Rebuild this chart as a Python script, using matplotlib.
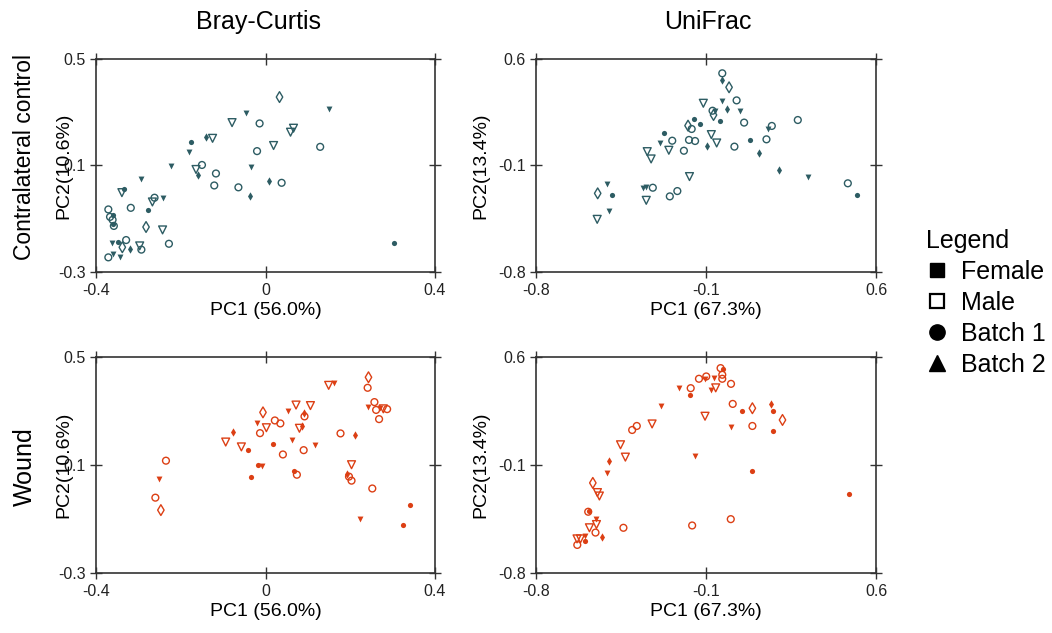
import matplotlib
matplotlib.use("Agg")
import matplotlib.pyplot as plt
from matplotlib.lines import Line2D

plt.rcParams['font.family'] = ['Liberation Sans', 'DejaVu Sans']

TEAL = '#2d5c63'
ORANGE = '#dc3f14'

# kinds: fc/oc = filled/open circle, ft/ot = filled/open triangle, fd/od = filled/open diamond
# Bray-Curtis, contralateral control
bc_ctrl_x = [0.033, 0.149, -0.047, -0.079, -0.014, 0.066, 0.059, -0.175, -0.140, -0.125,
             0.019, 0.129, -0.180, -0.020, -0.223, -0.150, -0.164, -0.159, -0.117, -0.035,
             0.008, 0.038, -0.121, -0.064, -0.036, -0.295, -0.333, -0.339, -0.262, -0.267,
             -0.243, -0.318, -0.277, -0.371, -0.367, -0.360, -0.361, -0.361, -0.358, -0.282,
             -0.243, -0.363, -0.349, -0.329, -0.338, -0.321, -0.297, -0.293, -0.228, -0.359,
             -0.371, -0.343, 0.303]
bc_ctrl_y = [0.357, 0.314, 0.299, 0.261, 0.258, 0.240, 0.225, 0.190, 0.206, 0.202,
             0.175, 0.170, 0.149, 0.154, 0.098, 0.102, 0.085, 0.066, 0.070, 0.093,
             0.040, 0.035, 0.025, 0.018, -0.013, 0.049, 0.013, -0.002, -0.021, -0.037,
             -0.021, -0.059, -0.068, -0.065, -0.093, -0.087, -0.104, -0.118, -0.127, -0.131,
             -0.142, -0.191, -0.188, -0.180, -0.207, -0.212, -0.202, -0.216, -0.194, -0.234,
             -0.245, -0.244, -0.192]
bc_ctrl_kind = ['od', 'ft', 'ft', 'ot', 'oc', 'ot', 'ot', 'fc', 'fd', 'ot',
                'ot', 'oc', 'ft', 'oc', 'ft', 'oc', 'ot', 'fd', 'oc', 'ft',
                'fd', 'oc', 'oc', 'oc', 'fd', 'ft', 'fc', 'ot', 'oc', 'ot',
                'ft', 'oc', 'fc', 'oc', 'oc', 'fc', 'oc', 'fc', 'oc', 'od',
                'ot', 'ft', 'fc', 'oc', 'od', 'fd', 'ot', 'oc', 'oc', 'ft',
                'oc', 'ft', 'fc']

# UniFrac, contralateral control
uf_ctrl_x = [-0.033, -0.036, -0.005, -0.111, -0.034, 0.026, -0.015, 0.039, -0.073, -0.064,
             -0.069, -0.041, -0.151, -0.123, -0.174, -0.159, 0.057, -0.272, -0.239, -0.290,
             -0.170, -0.145, -0.078, -0.056, -0.095, 0.017, -0.191, -0.253, -0.342, -0.326,
             0.080, 0.149, 0.156, 0.171, 0.278, 0.120, 0.200, 0.319, -0.168, -0.508,
             -0.546, -0.487, -0.361, -0.345, -0.319, -0.346, -0.249, -0.218, -0.499, -0.548,
             0.484, 0.520]
uf_ctrl_y = [0.506, 0.462, 0.414, 0.309, 0.326, 0.328, 0.271, 0.260, 0.260, 0.260,
             0.232, 0.192, 0.203, 0.175, 0.162, 0.140, 0.182, 0.111, 0.063, 0.050,
             0.068, 0.061, 0.103, 0.048, 0.030, 0.024, -0.003, 0.000, -0.009, -0.057,
             0.068, 0.072, 0.140, 0.160, 0.199, -0.018, -0.130, -0.178, -0.173, -0.219,
             -0.283, -0.294, -0.246, -0.241, -0.246, -0.329, -0.303, -0.268, -0.397, -0.454,
             -0.217, -0.294]
uf_ctrl_kind = ['oc', 'fd', 'od', 'ot', 'ft', 'oc', 'fd', 'ft', 'oc', 'ft',
                'od', 'fc', 'fc', 'fc', 'od', 'oc', 'oc', 'fc', 'oc', 'ft',
                'oc', 'oc', 'ot', 'ot', 'fd', 'oc', 'oc', 'ot', 'ot', 'ot',
                'fc', 'oc', 'ft', 'oc', 'oc', 'fd', 'fd', 'ft', 'ot', 'ft',
                'od', 'fc', 'ft', 'ft', 'oc', 'ot', 'oc', 'oc', 'ft', 'ot',
                'oc', 'fc']

# Bray-Curtis, wound
bc_wound_x = [0.243, 0.241, 0.149, 0.162, 0.257, 0.241, 0.261, 0.270, 0.278, 0.287,
              0.268, 0.072, 0.106, 0.054, 0.091, 0.092, -0.006, 0.022, 0.035, -0.021,
              0.002, -0.013, 0.085, 0.080, -0.076, -0.094, -0.057, -0.042, 0.017, 0.063,
              0.041, 0.090, 0.117, 0.177, 0.212, -0.017, -0.009, -0.035, 0.067, 0.074,
              0.203, 0.192, 0.197, 0.203, 0.252, 0.223, 0.341, 0.325, -0.235, -0.252,
              -0.260, -0.247]
bc_wound_y = [0.425, 0.386, 0.395, 0.405, 0.333, 0.315, 0.304, 0.310, 0.308, 0.307,
              0.270, 0.322, 0.320, 0.301, 0.294, 0.280, 0.295, 0.265, 0.254, 0.254,
              0.238, 0.218, 0.246, 0.236, 0.223, 0.185, 0.167, 0.154, 0.176, 0.193,
              0.139, 0.155, 0.173, 0.217, 0.212, 0.100, 0.097, 0.054, 0.076, 0.064,
              0.101, 0.065, 0.057, 0.042, 0.013, -0.099, -0.047, -0.121, 0.116, 0.048,
              -0.021, -0.067]
bc_wound_kind = ['od', 'oc', 'ot', 'ft', 'oc', 'ft', 'oc', 'ft', 'ot', 'oc',
                 'oc', 'ot', 'ot', 'ft', 'fd', 'oc', 'od', 'oc', 'oc', 'ft',
                 'ot', 'oc', 'fd', 'ot', 'fd', 'ot', 'ot', 'fc', 'fc', 'ft',
                 'oc', 'oc', 'ft', 'oc', 'fd', 'fc', 'ft', 'fc', 'fc', 'oc',
                 'ot', 'fd', 'oc', 'oc', 'oc', 'ft', 'fc', 'fc', 'oc', 'ft',
                 'oc', 'od']

# UniFrac, wound
uf_wound_x = [-0.040, -0.031, -0.033, -0.033, -0.129, -0.099, -0.104, -0.066, -0.060, -0.080,
              0.003, -0.163, -0.165, -0.212, -0.284, -0.104, 0.010, 0.047, 0.091, 0.168,
              0.174, 0.215, 0.091, 0.004, 0.176, -0.322, -0.385, -0.404, -0.452, -0.432,
              -0.146, -0.500, -0.507, 0.091, 0.490, -0.566, -0.547, -0.539, -0.581, -0.585,
              -0.551, -0.551, -0.580, -0.555, -0.530, -0.631, -0.617, -0.597, -0.599, -0.630,
              -0.440, -0.157, 0.002]
uf_wound_y = [0.528, 0.524, 0.485, 0.459, 0.459, 0.474, 0.459, 0.463, 0.400, 0.383,
              0.426, 0.398, 0.352, 0.398, 0.281, 0.216, 0.296, 0.248, 0.268, 0.296,
              0.248, 0.192, 0.153, 0.144, 0.120, 0.166, 0.153, 0.127, 0.031, -0.049,
              -0.040, -0.077, -0.151, -0.142, -0.290, -0.216, -0.279, -0.301, -0.399, -0.403,
              -0.449, -0.486, -0.507, -0.538, -0.566, -0.579, -0.579, -0.562, -0.590, -0.618,
              -0.507, -0.492, -0.451]
uf_wound_kind = ['oc', 'fc', 'oc', 'oc', 'oc', 'oc', 'ft', 'ft', 'ot', 'ft',
                 'oc', 'oc', 'fc', 'ft', 'ft', 'ot', 'oc', 'fc', 'od', 'fd',
                 'fc', 'od', 'oc', 'ft', 'fc', 'ot', 'oc', 'oc', 'ot', 'ot',
                 'ft', 'fd', 'ft', 'fc', 'fc', 'od', 'ot', 'ot', 'fc', 'oc',
                 'ft', 'ot', 'ot', 'oc', 'fd', 'ot', 'ot', 'ft', 'fc', 'oc',
                 'oc', 'oc', 'oc']

bc_xlim, bc_ylim = (-0.4, 0.4), (-0.3, 0.5)
uf_xlim, uf_ylim = (-0.8, 0.6), (-0.8, 0.6)

styles = {
    'fc': ('o', True, 14),
    'oc': ('o', False, 24),
    'ft': ('v', True, 18),
    'ot': ('v', False, 32),
    'fd': ('d', True, 18),
    'od': ('d', False, 30),
}


def draw_panel(ax, xs, ys, kinds, color, xlim, ylim, xlabel, ylabel, ylab_x):
    for k, (m, filled, s) in styles.items():
        px = [x for x, kk in zip(xs, kinds) if kk == k]
        py = [y for y, kk in zip(ys, kinds) if kk == k]
        if filled:
            ax.scatter(px, py, marker=m, s=s, color=color, linewidths=0)
        else:
            ax.scatter(px, py, marker=m, s=s, facecolors='none', edgecolors=color, linewidths=1.0)
    ax.set_xlim(xlim)
    ax.set_ylim(ylim)
    ax.set_xticks([xlim[0], (xlim[0] + xlim[1]) / 2, xlim[1]])
    ax.set_yticks([ylim[0], (ylim[0] + ylim[1]) / 2, ylim[1]])
    ax.set_xticklabels(['%g' % v for v in ax.get_xticks()])
    ax.set_yticklabels(['%g' % v for v in ax.get_yticks()])
    ax.tick_params(direction='inout', length=8, width=1, top=True, right=True,
                   labelsize=11.5, colors='#333333', labelcolor='#222222')
    ax.tick_params(axis='x', pad=4)
    for sp in ax.spines.values():
        sp.set_color('#333333')
        sp.set_linewidth(1.2)
    ax.set_xlabel(xlabel, fontsize=14, labelpad=3)
    ax.set_ylabel(ylabel, fontsize=14)
    ax.yaxis.set_label_coords(ylab_x, 0.5)


fig = plt.figure(figsize=(10.52, 6.33), dpi=100)
ax_tl = fig.add_axes([0.0913, 0.5703, 0.3222, 0.3365])
ax_tr = fig.add_axes([0.5095, 0.5703, 0.3232, 0.3365])
ax_bl = fig.add_axes([0.0913, 0.0948, 0.3222, 0.3412])
ax_br = fig.add_axes([0.5095, 0.0948, 0.3232, 0.3412])

draw_panel(ax_tl, bc_ctrl_x, bc_ctrl_y, bc_ctrl_kind, TEAL, bc_xlim, bc_ylim,
           'PC1 (56.0%)', 'PC2(10.6%)', -0.071)
draw_panel(ax_tr, uf_ctrl_x, uf_ctrl_y, uf_ctrl_kind, TEAL, uf_xlim, uf_ylim,
           'PC1 (67.3%)', 'PC2(13.4%)', -0.138)
draw_panel(ax_bl, bc_wound_x, bc_wound_y, bc_wound_kind, ORANGE, bc_xlim, bc_ylim,
           'PC1 (56.0%)', 'PC2(10.6%)', -0.071)
draw_panel(ax_br, uf_wound_x, uf_wound_y, uf_wound_kind, ORANGE, uf_xlim, uf_ylim,
           'PC1 (67.3%)', 'PC2(13.4%)', -0.138)

fig.text(259 / 1052, 1 - 22 / 633, 'Bray-Curtis', fontsize=18, ha='center', va='center')
fig.text(708 / 1052, 1 - 22 / 633, 'UniFrac', fontsize=18, ha='center', va='center')
fig.text(25 / 1052, 1 - 157 / 633, 'Contralateral control', fontsize=16.5,
         rotation=90, ha='center', va='center')
fig.text(25 / 1052, 1 - 467 / 633, 'Wound', fontsize=18, rotation=90, ha='center', va='center')

handles = [
    Line2D([], [], marker='s', linestyle='none', color='black', markersize=10),
    Line2D([], [], marker='s', linestyle='none', markerfacecolor='none',
           markeredgecolor='black', markeredgewidth=1.6, markersize=10),
    Line2D([], [], marker='o', linestyle='none', color='black', markersize=11),
    Line2D([], [], marker='^', linestyle='none', color='black', markersize=11),
]
fig.legend(handles, ['Female', 'Male', 'Batch 1', 'Batch 2'], title='Legend',
           loc='upper left', bbox_to_anchor=(926 / 1052, 1 - 229 / 633),
           frameon=False, fontsize=18, title_fontsize=18, handlelength=0.9,
           handletextpad=0.5, labelspacing=0.28, borderpad=0, borderaxespad=0,
           alignment='left')

fig.savefig('out.png', dpi=100)
